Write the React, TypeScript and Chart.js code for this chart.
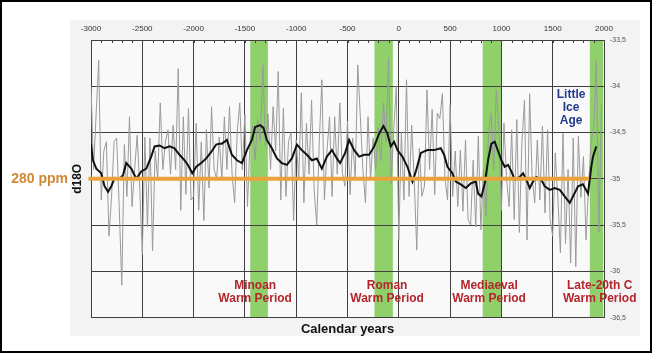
import React, { useEffect, useRef } from 'react';
import { Chart, registerables } from 'chart.js';

Chart.register(...registerables);

const FONT = '"Liberation Sans", Arial, Helvetica, sans-serif';

// ---- data ----
const greyStartYear = -3000;
const greyStepYears = 25;
const greyValues = [
  -34.0, -34.9, -34.3, -33.72, -35.23, -34.7, -34.6, -35.62, -35.2, -34.6,
  -34.56, -35.3, -36.15, -34.63, -35.19, -34.33, -35.3, -34.9, -34.53, -35.1,
  -35.82, -34.55, -35.52, -34.56, -35.78, -34.7, -35.0, -34.18, -34.9, -34.6,
  -34.47, -34.95, -34.42, -34.9, -33.81, -35.34, -34.33, -35.17, -34.24, -35.23,
  -35.19, -34.4, -35.34, -34.6, -35.45, -34.47, -35.1, -34.22, -34.9, -35.0,
  -34.55, -35.0, -34.33, -34.9, -34.22, -34.95, -35.26, -34.5, -34.18, -34.9,
  -34.3, -35.3, -34.6, -34.43, -34.8, -34.36, -34.6, -33.77, -34.65, -34.3,
  -34.9, -34.22, -34.7, -33.84, -35.23, -34.24, -35.19, -34.6, -34.5, -35.45,
  -34.58, -35.0, -34.07, -35.26, -34.4, -34.95, -34.15, -35.12, -35.5, -34.6,
  -33.93, -35.23, -34.7, -34.33, -35.19, -34.33, -34.95, -34.18, -34.94, -35.08,
  -34.38, -35.17, -34.56, -35.0, -33.77, -34.33, -34.9, -35.26, -34.33, -35.0,
  -34.56, -34.9, -34.45, -34.8, -34.18, -34.6, -33.7, -35.05, -34.5, -34.0,
  -35.66, -34.5, -35.23, -33.93, -35.19, -34.42, -35.0, -35.77, -34.67, -35.19,
  -35.08, -34.04, -34.9, -34.25, -35.17, -34.29, -34.35, -34.08, -35.0, -35.23,
  -34.2, -35.19, -34.7, -35.3, -34.69, -35.35, -34.58, -35.44, -35.5, -34.8,
  -35.52, -34.54, -35.55, -34.9, -35.4, -34.5, -34.29, -34.9, -34.04, -34.45,
  -35.34, -34.4, -35.0, -35.3, -34.47, -35.44, -34.36, -35.58, -34.6, -34.15,
  -35.66, -34.08, -35.0, -35.26, -34.58, -35.23, -34.43, -35.37, -34.47, -35.44,
  -35.62, -34.72, -35.2, -35.8, -34.51, -35.7, -34.9, -35.91, -34.56, -35.95,
  -34.54, -35.2, -34.76, -35.66, -35.05, -34.6, -34.44, -33.72, -35.58, -34.2,
];

const smoothYears = [
  -3000, -2981, -2948, -2900, -2868, -2834, -2802, -2770, -2721, -2688,
  -2656, -2607, -2559, -2510, -2461, -2413, -2380, -2332, -2283, -2234,
  -2186, -2137, -2088, -2055, -2013, -1974, -1926, -1877, -1828, -1780,
  -1747, -1724, -1675, -1627, -1578, -1529, -1480, -1432, -1400, -1351,
  -1319, -1286, -1237, -1188, -1140, -1091, -1042, -993, -945, -896,
  -847, -799, -750, -701, -652, -604, -572, -523, -484, -435,
  -386, -338, -289, -240, -191, -150, -111, -78, -46, -13,
  35, 84, 133, 166, 215, 279, 344, 409, 442, 474,
  522, 555, 604, 653, 701, 750, 773, 805, 838, 870,
  902, 935, 967, 1000, 1033, 1065, 1097, 1130, 1179, 1211,
  1243, 1276, 1308, 1341, 1389, 1422, 1471, 1520, 1569, 1617,
  1666, 1698, 1747, 1795, 1844, 1861, 1876, 1893, 1925,
];
const smoothValues = [
  -34.62, -34.8, -34.89, -34.94, -35.08, -35.14, -35.08, -34.99, -35.0, -34.96,
  -34.83, -34.89, -35.0, -34.92, -34.89, -34.76, -34.65, -34.64, -34.67, -34.65,
  -34.67, -34.74, -34.8, -34.85, -34.94, -34.87, -34.83, -34.78, -34.71, -34.63,
  -34.62, -34.62, -34.58, -34.74, -34.8, -34.83, -34.69, -34.58, -34.44, -34.42,
  -34.45, -34.58, -34.67, -34.78, -34.83, -34.85, -34.78, -34.63, -34.69, -34.74,
  -34.8, -34.78, -34.89, -34.76, -34.69, -34.78, -34.83, -34.72, -34.58, -34.69,
  -34.76, -34.74, -34.74, -34.65, -34.51, -34.43, -34.51, -34.65, -34.6, -34.69,
  -34.76, -34.87, -35.03, -34.92, -34.72, -34.69, -34.69, -34.67, -34.74, -34.87,
  -34.94, -35.03, -35.06, -35.1, -35.05, -35.03, -35.16, -35.19, -35.05, -34.8,
  -34.62, -34.6, -34.7, -34.8, -34.87, -34.85, -34.92, -35.01, -34.98, -34.94,
  -35.01, -35.1, -35.03, -34.98, -35.01, -35.08, -35.12, -35.1, -35.12, -35.19,
  -35.26, -35.19, -35.08, -35.06, -35.16, -35.01, -34.87, -34.76, -34.65,
];

const referenceLevel = -35; // 280 ppm
const referenceLineYears = [-3025, 1855];

const bandStarts = [-1448, -237, 818, 1862];
const bandEnds = [-1276, -58, 1004, 1992];
const periodNames = ['Minoan', 'Roman', 'Mediaeval', 'Late-20th C'];
const periodSubtitle = 'Warm Period';
const periodLabelYears = [-1400, -114, 880, 1958];
const iceAgeWords = ['Little', 'Ice', 'Age'];
const iceAgeYear = 1679;

const xMin = -3000;
const xMax = 2000;
const yMin = -36.5;
const yMax = -33.5;

// ---- styles ----
const BAND_COLOR = '#8fd06a';
const RED = '#b3262c';
const BLUE = '#243b8c';
const ORANGE_LINE = '#e9a23c';
const ORANGE_TEXT = '#d08836';
const GRID = '#404040';

const decorPlugin = {
  id: 'decor',
  beforeDraw(chart: any) {
    const { ctx, chartArea: a, scales } = chart;
    const x = scales.x;
    ctx.save();
    ctx.fillStyle = '#ffffff';
    ctx.fillRect(0, 0, chart.width, chart.height);
    ctx.fillStyle = '#f3f3f3';
    ctx.fillRect(70, 20, 570, 316);
    ctx.fillStyle = '#f9f9f9';
    ctx.fillRect(a.left, a.top, a.right - a.left, a.bottom - a.top);
    ctx.fillStyle = BAND_COLOR;
    bandStarts.forEach((s, i) => {
      const x0 = x.getPixelForValue(s);
      const x1 = x.getPixelForValue(bandEnds[i]);
      ctx.fillRect(x0, a.top, x1 - x0, a.bottom - a.top);
    });
    ctx.restore();
  },
  afterDatasetsDraw(chart: any) {
    const { ctx, chartArea: a, scales } = chart;
    const x = scales.x;
    const y = scales.y;
    ctx.save();
    // minor ticks on the top border
    ctx.strokeStyle = GRID;
    ctx.lineWidth = 1;
    for (let yr = xMin + 100; yr < xMax; yr += 100) {
      const px = Math.round(x.getPixelForValue(yr)) + 0.5;
      ctx.beginPath();
      ctx.moveTo(px, a.top);
      ctx.lineTo(px, a.top + 3);
      ctx.stroke();
    }
    ctx.textAlign = 'center';
    ctx.textBaseline = 'middle';
    ctx.font = `bold 12px ${FONT}`;
    ctx.fillStyle = RED;
    periodNames.forEach((name, i) => {
      const px = x.getPixelForValue(periodLabelYears[i]);
      ctx.fillText(name, px, y.getPixelForValue(-36.16));
      ctx.fillText(periodSubtitle, px, y.getPixelForValue(-36.3));
    });
    ctx.fillStyle = BLUE;
    const iceRows = [-34.09, -34.235, -34.37];
    iceAgeWords.forEach((w, i) => {
      ctx.fillText(w, x.getPixelForValue(iceAgeYear), y.getPixelForValue(iceRows[i]));
    });
    ctx.restore();
  },
  afterDraw(chart: any) {
    const { ctx } = chart;
    ctx.save();
    ctx.strokeStyle = '#000';
    ctx.lineWidth = 2;
    ctx.strokeRect(1, 1, chart.width - 2, chart.height - 2);
    ctx.restore();
  },
};

export default function App() {
  const ref = useRef<HTMLCanvasElement>(null);

  useEffect(() => {
    const greyData = greyValues.map((v, i) => ({ x: greyStartYear + i * greyStepYears, y: v }));
    const smoothData = smoothValues.map((v, i) => ({ x: smoothYears[i], y: v }));
    const refData = referenceLineYears.map((yr) => ({ x: yr, y: referenceLevel }));

    const chart = new Chart(ref.current as HTMLCanvasElement, {
      type: 'line',
      data: {
        datasets: [
          {
            label: '280 ppm',
            data: refData,
            borderColor: ORANGE_LINE,
            borderWidth: 4,
            pointRadius: 0,
            clip: false as any,
            xAxisID: 'x',
            yAxisID: 'y',
          },
          {
            label: 'smoothed',
            data: smoothData,
            borderColor: '#111111',
            borderWidth: 2,
            pointRadius: 0,
            xAxisID: 'x',
            yAxisID: 'y',
          },
          {
            label: 'd18O',
            data: greyData,
            borderColor: '#9a9a9a',
            borderWidth: 1,
            pointRadius: 0,
            xAxisID: 'x',
            yAxisID: 'y',
          },
        ],
      },
      options: {
        animation: false,
        responsive: false,
        devicePixelRatio: 1,
        layout: { padding: 0 },
        plugins: {
          legend: { display: false },
          tooltip: { enabled: false },
        },
        scales: {
          x: {
            type: 'linear',
            position: 'top',
            min: xMin,
            max: xMax,
            ticks: {
              stepSize: 500,
              color: '#333',
              font: { family: FONT, size: 8 },
              padding: 6,
              maxRotation: 0,
              autoSkip: false,
              callback: (v: any) => String(v),
            },
            grid: { color: GRID, lineWidth: 1, drawTicks: false },
            border: { display: true, color: GRID },
            afterFit: (s: any) => {
              s.height = 40;
            },
          },
          x2: {
            type: 'linear',
            position: 'bottom',
            min: xMin,
            max: xMax,
            ticks: { display: false },
            grid: { display: false, drawTicks: false },
            border: { display: false },
            title: {
              display: true,
              text: 'Calendar years',
              color: '#111',
              font: { family: FONT, size: 13, weight: 'bold' },
              padding: { top: 0, bottom: 16 },
            },
            afterFit: (s: any) => {
              s.height = 35.4;
            },
          },
          y: {
            type: 'linear',
            position: 'right',
            min: yMin,
            max: yMax,
            ticks: {
              stepSize: 0.5,
              color: '#555',
              font: { family: FONT, size: 7 },
              padding: 6,
              callback: (v: any) => String(v).replace('.', ','),
            },
            grid: { color: GRID, lineWidth: 1, drawTicks: false },
            border: { display: true, color: GRID },
            afterFit: (s: any) => {
              s.width = 48;
            },
          },
          yLeft: {
            type: 'linear',
            position: 'left',
            min: yMin,
            max: yMax,
            grid: { display: false, drawTicks: false },
            border: { display: false },
            afterBuildTicks: (axis: any) => {
              axis.ticks = [{ value: referenceLevel }];
            },
            ticks: {
              autoSkip: false,
              color: ORANGE_TEXT,
              font: { family: FONT, size: 14, weight: 'bold' },
              padding: 23,
              callback: () => '280 ppm',
            },
            title: {
              display: true,
              text: 'd18O',
              color: '#111',
              font: { family: FONT, size: 12, weight: 'bold' },
              padding: { top: 70, bottom: 0 },
            },
            afterFit: (s: any) => {
              s.width = 91;
            },
          },
        },
      } as any,
      plugins: [decorPlugin],
    });
    return () => chart.destroy();
  }, []);

  return (
    <div style={{ position: 'absolute', left: 0, top: 0, width: 652, height: 353 }}>
      <canvas ref={ref} width={652} height={353} style={{ display: 'block' }} />
    </div>
  );
}
